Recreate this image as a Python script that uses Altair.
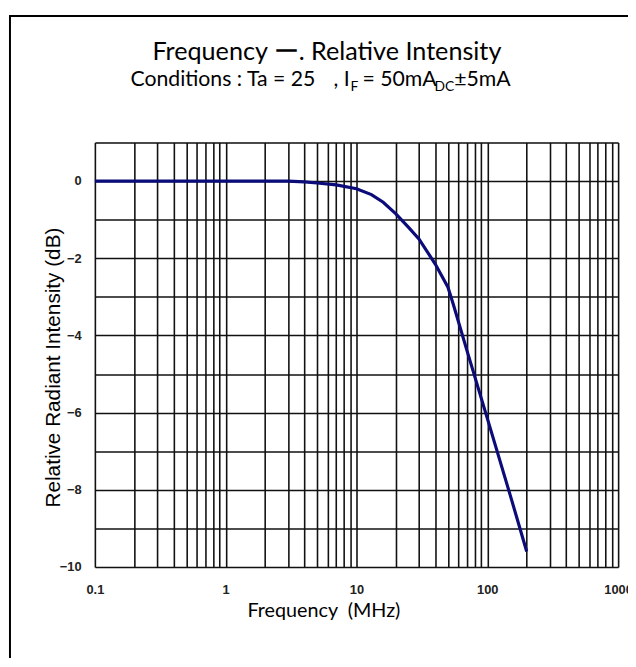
import altair as alt
import pandas as pd

# ---- data ----
freq_mhz = [0.1, 0.3, 1, 2, 3, 4, 5, 7, 10, 13, 16, 20, 25, 30, 40, 50, 55, 70, 100, 150, 200]
rel_db = [0, 0, 0, 0, 0, -0.02, -0.05, -0.1, -0.2, -0.35, -0.55, -0.85, -1.2, -1.5, -2.15, -2.75, -3.2, -4.4, -6.15, -8.15, -9.6]

x_grid = [round(m * 10 ** e, 6) for e in range(-1, 3) for m in range(1, 10)] + [1000]
x_labels = ["0.1", "1", "10", "100", "1000"]
y_grid = list(range(-10, 2))
y_labels = [0, -2, -4, -6, -8, -10]

title_text = "Frequency ー. Relative Intensity"
sub_parts = ["Conditions : Ta = 25", ", I", "F", "= 50mA", "DC", "±5mA"]
x_title = "Frequency\u00a0\u00a0(MHz)"
y_title = "Relative Radiant Intensity (dB)"

df = pd.DataFrame({"freq": freq_mhz, "db": rel_db})
one = pd.DataFrame({"k": [0]})

TITLE_FONT = "Lato"
AX_FONT = "Liberation Sans"

xlab_list = "[" + ",".join("'%s'" % s for s in x_labels) + "]"
ylab_list = "[" + ",".join(str(v) for v in y_labels) + "]"

line = alt.Chart(df).mark_line(color="#0b0b7a", strokeWidth=3.2).encode(
    x=alt.X(
        "freq:Q",
        scale=alt.Scale(type="log", domain=[0.1, 1000], nice=False),
        axis=alt.Axis(
            values=x_grid,
            format="~g",
            labelExpr="indexof(" + xlab_list + ", datum.label) >= 0 ? datum.label : ''",
            labelFlush=False,
            labelOverlap=False,
            labelPadding=17,
            labelFont=AX_FONT,
            labelFontSize=13,
            labelFontWeight="bold",
            labelColor="#222",
            ticks=False,
            domain=False,
            grid=True,
            gridColor="#111",
            gridWidth=1.6,
            title=None,
        ),
    ),
    y=alt.Y(
        "db:Q",
        scale=alt.Scale(domain=[-10, 1], nice=False),
        axis=alt.Axis(
            values=y_grid,
            labelExpr="indexof(" + ylab_list + ", datum.value) >= 0 ? datum.label : ''",
            labelOverlap=False,
            labelPadding=14,
            labelFont=AX_FONT,
            labelFontSize=13,
            labelFontWeight="bold",
            labelColor="#222",
            ticks=False,
            domain=False,
            grid=True,
            gridColor="#111",
            gridWidth=1.6,
            title=None,
        ),
    ),
)

frame = alt.Chart(one).mark_rect(fill="transparent", stroke="black", strokeWidth=2).encode(
    x=alt.value(-86), y=alt.value(-128), x2=alt.value(700), y2=alt.value(700)
)

def txt(s, x, y, size, align="left", font=TITLE_FONT, angle=0, baseline="alphabetic"):
    return alt.Chart(one).mark_text(
        text=s, font=font, fontSize=size, align=align, baseline=baseline,
        angle=angle, color="black"
    ).encode(x=alt.value(x), y=alt.value(y))

texts = [
    txt(title_text, 235, -84, 25.5, align="center"),
    txt(sub_parts[0], 36, -57, 21.5),
    txt(sub_parts[1], 258, -57, 21.5, align="right"),
    txt(sub_parts[2], 259, -52, 14),
    txt(sub_parts[3], 271, -57, 21.5),
    txt(sub_parts[4], 344, -52, 14),
    txt(sub_parts[5], 364, -57, 21.5),
    txt(x_title, 232, 481, 20, align="center"),
    txt(y_title, -41, 228, 21, align="center", font=AX_FONT, angle=270, baseline="middle"),
]

chart = alt.layer(frame, line, *texts).properties(
    width=530,
    height=430,
    autosize=alt.AutoSizeParams(type="none"),
    padding={"left": 88, "top": 132, "right": 10, "bottom": 88},
).configure_view(stroke="#111", strokeWidth=2).configure(background="white")

chart.save("out.html", embed_options={"renderer": "svg", "actions": False})
